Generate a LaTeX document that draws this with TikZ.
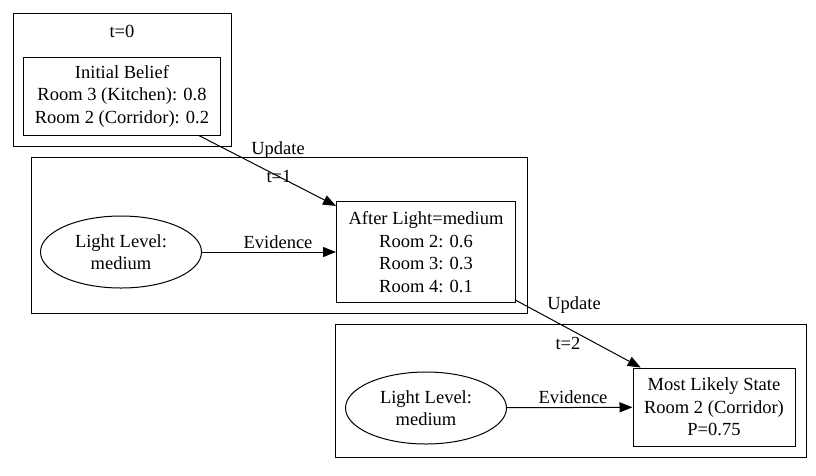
\documentclass[tikz,border=0pt]{standalone}
\usepackage{fontspec}
\setmainfont{Liberation Serif}
\usetikzlibrary{arrows.meta,shapes.geometric}

\tikzset{
  every node/.style={font=\fontsize{18.5}{22.5}\selectfont, align=center, inner sep=0pt},
  statebox/.style={draw, line width=1pt, rectangle},
  obsnode/.style={draw, line width=1pt, ellipse, minimum width=161pt, minimum height=72pt},
  cluster/.style={draw, line width=1pt},
  link/.style={line width=1pt, -{Triangle[length=13pt,width=10pt]}}
}

\begin{document}
\begin{tikzpicture}[x=1pt,y=-1pt]
    \useasboundingbox (0,0) rectangle (816,475);

    % time slice t=0
    \draw[cluster] (13,13) rectangle (231,146);
    \node (t0) at (122,31) {t=0};
    \node[statebox, minimum width=197pt, minimum height=78pt] (init) at (122,96)
        {Initial Belief\\Room 3 (Kitchen): 0.8\\Room 2 (Corridor): 0.2};

    % time slice t=1
    \draw[cluster] (31,157) rectangle (527,313);
    \node (t1) at (279,176) {t=1};
    \node[obsnode] (light1) at (121,252) {Light Level:\\medium};
    \node[statebox, minimum width=179pt, minimum height=101pt] (after) at (426,252)
        {After Light=medium\\Room 2: 0.6\\Room 3: 0.3\\Room 4: 0.1};

    % time slice t=2
    \draw[cluster] (335,324) rectangle (806,457);
    \node (t2) at (568,343) {t=2};
    \node[obsnode] (light2) at (426,408) {Light Level:\\medium};
    \node[statebox, minimum width=162pt, minimum height=78pt] (best) at (714,407)
        {Most Likely State\\Room 2 (Corridor)\\P=0.75};

    % edges
    \draw[link] (init) -- (after);
    \node (upd1) at (278,150) {Update};
    \draw[link] (light1) -- (after);
    \node (ev1) at (278,242) {Evidence};
    \draw[link] (after) -- (best);
    \node (upd2) at (574,305) {Update};
    \draw[link] (light2) -- (best);
    \node (ev2) at (573,397) {Evidence};
\end{tikzpicture}
\end{document}
